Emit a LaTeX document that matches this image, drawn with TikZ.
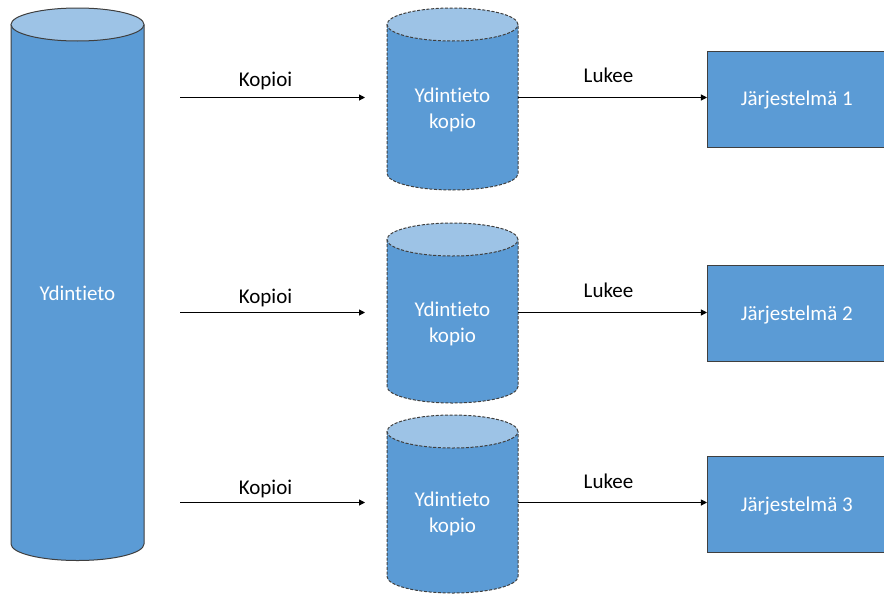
\documentclass[tikz,border=0pt]{standalone}
\usepackage{fontspec}
\setmainfont{Carlito}[Ligatures={NoCommon,NoContextual}]
\usetikzlibrary{arrows.meta}
\definecolor{cylblue}{HTML}{5B9BD5}
\definecolor{cyltop}{HTML}{9DC3E6}
\definecolor{edgegray}{HTML}{3F3F3F}
\newcommand\myfont{\fontsize{15.75pt}{19.5pt}\selectfont}
\newcommand\mycyl[6]{%
  \pgfmathsetmacro\cylcx{(#1+#2)/2}%
  \pgfmathsetmacro\cylrx{(#2-#1)/2}%
  \fill[cylblue] (#1,#3) -- (#1,#4) arc[start angle=180,end angle=360,x radius=\cylrx,y radius=#5] -- (#2,#3) -- cycle;
  \draw[#6] (#1,#3) -- (#1,#4) arc[start angle=180,end angle=360,x radius=\cylrx,y radius=#5] -- (#2,#3);
  \filldraw[fill=cyltop,#6] (\cylcx,#3) ellipse[x radius=\cylrx,y radius=#5];
}
\tikzset{
  solidedge/.style={draw=edgegray,line width=0.75pt},
  dashedge/.style={draw=edgegray,line width=0.75pt,dash pattern=on 2.3pt off 1.2pt},
  bodybox/.style={rectangle,inner sep=0pt,minimum width=98.25pt},
  intxt/.style={text=white,font=\myfont,inner sep=0pt,text height=10.1pt,text depth=0pt},
  cyltxt/.style={text=white,font=\myfont,inner sep=0pt,align=center,anchor=base},
  lbl/.style={text=black,font=\myfont,inner sep=0pt,anchor=base},
  arr/.style={draw=black,line width=0.75pt,-{Triangle[length=4.5pt,width=4.5pt]}},
  sysbox/.style={rectangle,fill=cylblue,draw=edgegray,line width=0.75pt,minimum width=133.9pt,minimum height=72pt,inner sep=0pt,text=white,font=\myfont,text height=10.1pt,text depth=0pt}
}
\begin{document}
\begin{tikzpicture}[x=0.75pt,y=0.75pt]
\useasboundingbox (0,0) rectangle (884,-596);
% cylinders
\mycyl{11}{144}{-24.5}{-544}{16.5}{solidedge}
\mycyl{387}{518}{-24.5}{-173.5}{16.5}{dashedge}
\mycyl{387}{518}{-239.5}{-386.5}{16.5}{dashedge}
\mycyl{387}{518}{-431.5}{-576.5}{16.5}{dashedge}
% invisible body nodes
\node[bodybox,minimum height=100pt] (big) at (77.5,-293) {};
\node[bodybox,minimum height=100pt] (c1) at (452.5,-99) {};
\node[bodybox,minimum height=100pt] (c2) at (452.5,-313) {};
\node[bodybox,minimum height=100pt] (c3) at (452.5,-504) {};
% texts in cylinders
\node[intxt] (bigt) at (77.5,-294) {Ydintieto};
\node[cyltxt] (c1t) at (452.5,-128.75) {Ydintieto\\kopio};
\node[cyltxt] (c2t) at (452.5,-342.75) {Ydintieto\\kopio};
\node[cyltxt] (c3t) at (452.5,-532.75) {Ydintieto\\kopio};
% systems
\node[sysbox] (b1) at (796.75,-99) {Järjestelmä 1};
\node[sysbox] (b2) at (796.75,-313.5) {Järjestelmä 2};
\node[sysbox] (b3) at (796.75,-504.5) {Järjestelmä 3};
% copy arrows
\coordinate (k1s) at (180,-97.5);  \coordinate (k1e) at (365,-97.5);
\coordinate (k2s) at (180,-312.5); \coordinate (k2e) at (365,-312.5);
\coordinate (k3s) at (180,-502.5); \coordinate (k3e) at (365,-502.5);
\draw[arr] (k1s) -- (k1e);
\draw[arr] (k2s) -- (k2e);
\draw[arr] (k3s) -- (k3e);
\node[lbl] (kl1) at (265.5,-86) {Kopioi};
\node[lbl] (kl2) at (265.5,-303) {Kopioi};
\node[lbl] (kl3) at (265.5,-494) {Kopioi};
% read arrows
\draw[arr] (c1.east |- k1e) -- (b1.west |- k1e);
\draw[arr] (c2.east |- k2e) -- (b2.west |- k2e);
\draw[arr] (c3.east |- k3e) -- (b3.west |- k3e);
\node[lbl] (ll1) at (608.5,-82) {Lukee};
\node[lbl] (ll2) at (608.5,-297) {Lukee};
\node[lbl] (ll3) at (608.5,-488) {Lukee};
\end{tikzpicture}
\end{document}
